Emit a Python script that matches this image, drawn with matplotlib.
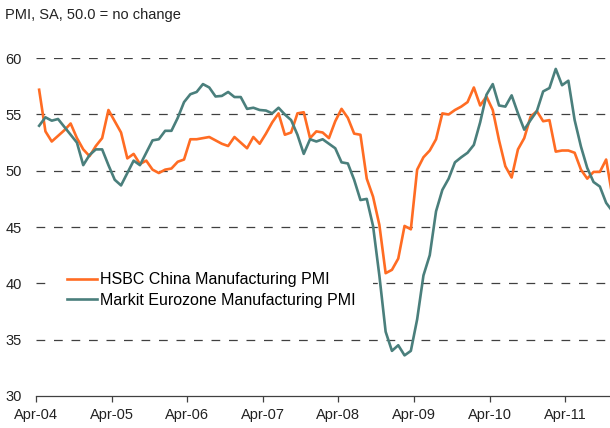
import matplotlib
matplotlib.use("Agg")
import matplotlib.pyplot as plt
import numpy as np
import pandas as pd

plt.rcParams['font.family'] = ['Liberation Sans', 'DejaVu Sans']

# monthly, Apr-04 .. Nov-11
months = pd.date_range('2004-04-01', periods=92, freq='MS')

china_pmi = [57.2, 53.5, 52.6, 53.1, 53.6, 54.2, 52.9, 51.9, 51.3, 52.2, 52.9, 55.4,
             54.4, 53.4, 51.1, 51.5, 50.6, 50.9, 50.1, 49.8, 50.1, 50.2, 50.8, 51.0,
             52.8, 52.8, 52.9, 53.0, 52.7, 52.4, 52.2, 53.0, 52.5, 52.0, 53.0, 52.4,
             53.3, 54.3, 55.1, 53.2, 53.4, 55.1, 55.2, 52.9, 53.5, 53.4, 52.9, 54.4,
             55.5, 54.7, 53.3, 53.2, 49.3, 47.7, 45.2, 40.9, 41.2, 42.2, 45.1, 44.8,
             50.1, 51.2, 51.8, 52.8, 55.1, 55.0, 55.4, 55.7, 56.1, 57.4, 55.8, 56.6,
             55.4, 52.7, 50.4, 49.4, 51.9, 52.9, 54.8, 55.3, 54.4, 54.5, 51.7, 51.8,
             51.8, 51.6, 50.1, 49.3, 49.9, 49.9, 51.0, 47.7]

eurozone_pmi = [54.0, 54.75, 54.45, 54.6, 53.9, 53.2, 52.5, 50.5, 51.4, 51.9, 51.9, 50.5,
                49.2, 48.7, 49.8, 50.9, 50.5, 51.6, 52.7, 52.8, 53.55, 53.55, 54.7, 56.1,
                56.8, 57.0, 57.7, 57.4, 56.6, 56.65, 57.0, 56.55, 56.55, 55.5, 55.6, 55.4,
                55.35, 55.1, 55.6, 55.0, 54.5, 53.2, 51.5, 52.8, 52.6, 52.8, 52.4, 52.0,
                50.75, 50.65, 49.2, 47.4, 47.5, 45.1, 40.7, 35.7, 34.0, 34.5, 33.6, 34.0,
                36.8, 40.7, 42.5, 46.4, 48.3, 49.3, 50.75, 51.2, 51.6, 52.3, 54.3, 56.75,
                57.7, 55.8, 55.7, 56.7, 55.1, 53.65, 54.5, 55.3, 57.05, 57.35, 59.05, 57.6,
                58.0, 54.5, 52.15, 50.25, 49.0, 48.6, 47.15, 46.4]

tick_labels = ['Apr-04', 'Apr-05', 'Apr-06', 'Apr-07', 'Apr-08', 'Apr-09', 'Apr-10', 'Apr-11']
y_ticks = [30, 35, 40, 45, 50, 55, 60]

x = np.arange(len(months))

fig = plt.figure(figsize=(6.1, 4.28), dpi=100)
ax = fig.add_axes([0.059, 0.075, 0.941, 0.789])

ax.plot(x, china_pmi, color='#FF6C23', lw=1.9, label='HSBC China Manufacturing PMI')
ax.plot(x, eurozone_pmi, color='#4A7F7C', lw=1.9, label='Markit Eurozone Manufacturing PMI')

ax.set_ylim(30, 60)
ax.set_xlim(-0.5, -0.5 + 574 / 6.3)
ax.set_yticks(y_ticks)
ax.set_xticks([12 * k - 0.5 for k in range(len(tick_labels))])
ax.set_xticklabels(tick_labels)

for v in y_ticks[1:]:
    ax.axhline(v, color='#404040', lw=0.9, dashes=(7, 7), zorder=0)

for s in ['top', 'right', 'left']:
    ax.spines[s].set_visible(False)
ax.spines['bottom'].set_color('#404040')
ax.spines['bottom'].set_linewidth(0.9)
ax.tick_params(axis='y', length=0, pad=10, labelsize=10.5, colors='#222222')
ax.tick_params(axis='x', length=4, width=0.9, color='#404040', pad=5, labelsize=10.5, labelcolor='#222222')

# white box behind the legend hides part of the 40 gridline
leg = ax.legend(loc='upper left', bbox_to_anchor=(0.023, 0.4175), frameon=True, fontsize=11.5,
                facecolor='white', edgecolor='none', framealpha=1, fancybox=False,
                borderpad=1.1, handlelength=1.9, handletextpad=0.2, labelspacing=0.32,
                borderaxespad=0)

fig.text(0.008, 0.965, 'PMI, SA, 50.0 = no change', fontsize=10.5, color='#222222', va='center')

fig.savefig('out.png', dpi=100)
